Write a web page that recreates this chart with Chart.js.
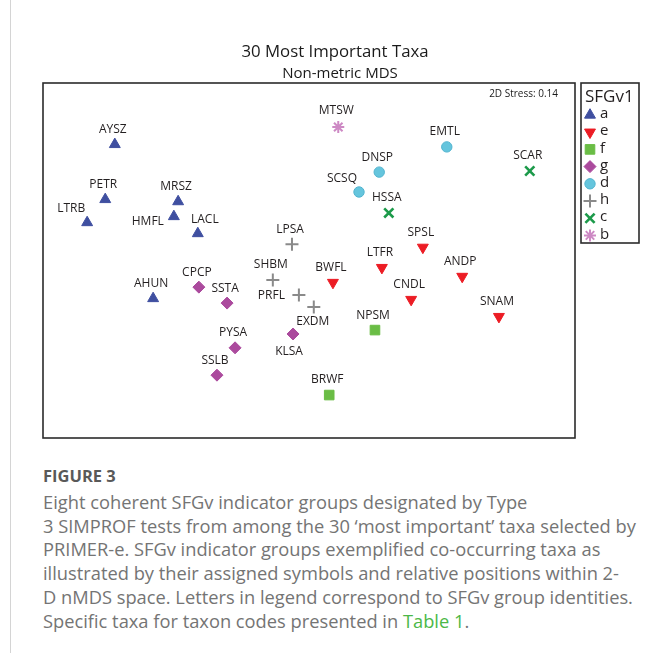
<!DOCTYPE html>
<html>
<head>
<meta charset="utf-8">
<script src="https://cdn.jsdelivr.net/npm/chart.js@4.4.1/dist/chart.umd.min.js"></script>
<style>
  html, body { margin: 0; padding: 0; background: #fff; }
  body { width: 667px; height: 653px; position: relative; overflow: hidden; font-family: "Open Sans", sans-serif; }
  #rule { position: absolute; left: 10px; top: 0; width: 1px; height: 653px; background: #d4d4d4; }
  #chart { position: absolute; left: 0; top: 0; }
  #caption { position: absolute; left: 43px; top: 464px; color: #747474; font-size: 18.3px; line-height: 23.8px; white-space: nowrap; }
  #caption .fig { font-weight: bold; color: #595959; font-size: 16.5px; margin-bottom: 2px; }
  #caption .link { color: #4cb848; }
</style>
</head>
<body>
<div id="rule"></div>
<canvas id="chart" width="667" height="450"></canvas>
<div id="caption">
  <div class="fig">FIGURE 3</div>
  <div>Eight coherent SFGv indicator groups designated by Type</div>
  <div>3 SIMPROF tests from among the 30 ‘most important’ taxa selected by</div>
  <div>PRIMER-e. SFGv indicator groups exemplified co-occurring taxa as</div>
  <div>illustrated by their assigned symbols and relative positions within 2-</div>
  <div>D nMDS space. Letters in legend correspond to SFGv group identities.</div>
  <div>Specific taxa for taxon codes presented in <span class="link">Table 1</span>.</div>
</div>
<script>
// taxon codes, their SFGv group and nMDS position (arbitrary units 0-100)
const taxa = ['AYSZ', 'PETR', 'LTRB', 'MRSZ', 'HMFL', 'LACL', 'AHUN',
              'SPSL', 'LTFR', 'BWFL', 'ANDP', 'CNDL', 'SNAM',
              'NPSM', 'BRWF',
              'CPCP', 'SSTA', 'KLSA', 'PYSA', 'SSLB',
              'EMTL', 'DNSP', 'SCSQ',
              'LPSA', 'SHBM', 'PRFL', 'EXDM',
              'HSSA', 'SCAR',
              'MTSW'];
const taxonGroup = ['a', 'a', 'a', 'a', 'a', 'a', 'a',
                    'e', 'e', 'e', 'e', 'e', 'e',
                    'f', 'f',
                    'g', 'g', 'g', 'g', 'g',
                    'd', 'd', 'd',
                    'h', 'h', 'h', 'h',
                    'c', 'c',
                    'b'];
const nmdsX = [13.5, 11.7, 8.3, 25.4, 24.6, 29.1, 20.7,
               71.4, 63.7, 54.5, 78.8, 69.2, 85.7,
               62.4, 53.8,
               29.3, 34.6, 47.0, 36.1, 32.7,
               75.9, 63.2, 59.4,
               46.8, 43.2, 48.1, 50.9,
               65.0, 91.5,
               55.5];
const nmdsY = [82.7, 67.2, 60.7, 66.6, 62.4, 57.6, 39.3,
               53.7, 48.0, 43.8, 45.5, 39.0, 34.2,
               30.4, 12.1,
               42.5, 38.0, 29.3, 25.4, 17.7,
               82.0, 74.9, 69.3,
               54.6, 44.5, 40.3, 36.9,
               63.4, 75.2,
               87.6];
const groupOrder = ['a', 'e', 'f', 'g', 'd', 'h', 'c', 'b'];
const stressText = '2D Stress: 0.14';

// marker look per group
const groupStyle = {
  a: { pointStyle: 'triangle', rotation: 0,   radius: 6.3, fill: '#3f4fa0', stroke: '#3f4fa0', width: 1 },
  e: { pointStyle: 'triangle', rotation: 180, radius: 6.3, fill: '#ec1c24', stroke: '#ec1c24', width: 1 },
  f: { pointStyle: 'rect',     rotation: 0,   radius: 6.8, fill: '#6abd45', stroke: '#6abd45', width: 1 },
  g: { pointStyle: 'rectRot',  rotation: 0,   radius: 6.0, fill: '#ab4a9d', stroke: '#ab4a9d', width: 1 },
  d: { pointStyle: 'circle',   rotation: 0,   radius: 5.2, fill: '#65c5dd', stroke: '#52b4cf', width: 1 },
  h: { pointStyle: 'cross',    rotation: 0,   radius: 6.5, fill: '#8a8a8a', stroke: '#8a8a8a', width: 2 },
  c: { pointStyle: 'crossRot', rotation: 0,   radius: 6.5, fill: '#1c9a4a', stroke: '#1c9a4a', width: 2.6 },
  b: { pointStyle: 'star',     rotation: 0,   radius: 6.0, fill: '#cd89c4', stroke: '#cd89c4', width: 2 }
};

// label placement tweaks (px from marker), default is centred above
const labelShift = {
  LTRB: [-16, -14], LACL: [7, -14], SCSQ: [-17, -13],
  HMFL: [-10, 5, 'right'], PRFL: [-14, 1, 'right'],
  EXDM: [-1, 15], KLSA: [-4, 18], MTSW: [-2, -16]
};

const FONT = '"Open Sans", "Liberation Sans", sans-serif';

const datasets = groupOrder.map(g => {
  const st = groupStyle[g];
  const pts = [], codes = [];
  taxa.forEach((t, i) => {
    if (taxonGroup[i] === g) { pts.push({ x: nmdsX[i], y: nmdsY[i] }); codes.push(t); }
  });
  return {
    label: g,
    data: pts,
    codes: codes,
    pointStyle: st.pointStyle,
    pointRotation: st.rotation,
    pointRadius: st.radius,
    pointBackgroundColor: st.fill,
    pointBorderColor: st.stroke,
    pointBorderWidth: st.width
  };
});

const decor = {
  id: 'decor',
  afterDatasetsDraw(chart) {
    const ctx = chart.ctx;
    const a = chart.chartArea;
    ctx.save();

    // frame
    ctx.strokeStyle = '#2b2b2b';
    ctx.lineWidth = 1.6;
    ctx.strokeRect(a.left, a.top, a.right - a.left, a.bottom - a.top);

    // titles
    ctx.fillStyle = '#1a1a1a';
    ctx.textAlign = 'center';
    ctx.textBaseline = 'middle';
    ctx.font = '16.8px ' + FONT;
    ctx.fillText('30 Most Important Taxa', 335, 52);
    ctx.font = '15px ' + FONT;
    ctx.fillText('Non-metric MDS', 340, 74);
    ctx.font = '10px ' + FONT;
    ctx.textAlign = 'right';
    ctx.fillText(stressText, 558, 94);

    // point labels
    ctx.font = '12px ' + FONT;
    ctx.fillStyle = '#231f20';
    chart.data.datasets.forEach((ds, di) => {
      chart.getDatasetMeta(di).data.forEach((el, i) => {
        const code = ds.codes[i];
        const s = labelShift[code] || [-2, -15];
        ctx.textAlign = s[2] || 'center';
        ctx.fillText(code, el.x + s[0], el.y + s[1]);
      });
    });

    // legend box
    const lx = 581, ly = 83, lw = 58, lh = 160;
    ctx.strokeStyle = '#2b2b2b';
    ctx.lineWidth = 1.6;
    ctx.strokeRect(lx, ly, lw, lh);
    ctx.textAlign = 'left';
    ctx.font = '17px ' + FONT;
    ctx.fillText('SFGv1', 585, 97);
    ctx.font = '15px ' + FONT;
    chart.data.datasets.forEach((ds, i) => {
      const st = groupStyle[ds.label];
      const y = 115 + i * 17.2;
      ctx.fillStyle = st.fill;
      ctx.strokeStyle = st.stroke;
      ctx.lineWidth = st.width;
      Chart.helpers.drawPoint(ctx, {
        pointStyle: st.pointStyle, rotation: st.rotation,
        radius: st.radius, borderWidth: st.width
      }, 590, y);
      ctx.fillStyle = '#231f20';
      ctx.fillText(ds.label, 600, y - 1);
    });
    ctx.restore();
  }
};

new Chart(document.getElementById('chart'), {
  type: 'scatter',
  data: { datasets: datasets },
  options: {
    responsive: false,
    animation: false,
    events: [],
    layout: { padding: { left: 43, top: 83, right: 92, bottom: 12 } },
    scales: {
      x: { type: 'linear', min: 0, max: 100, display: false },
      y: { type: 'linear', min: 0, max: 100, display: false }
    },
    plugins: {
      legend: { display: false },
      tooltip: { enabled: false },
      title: { display: false }
    }
  },
  plugins: [decor]
});
</script>
</body>
</html>
